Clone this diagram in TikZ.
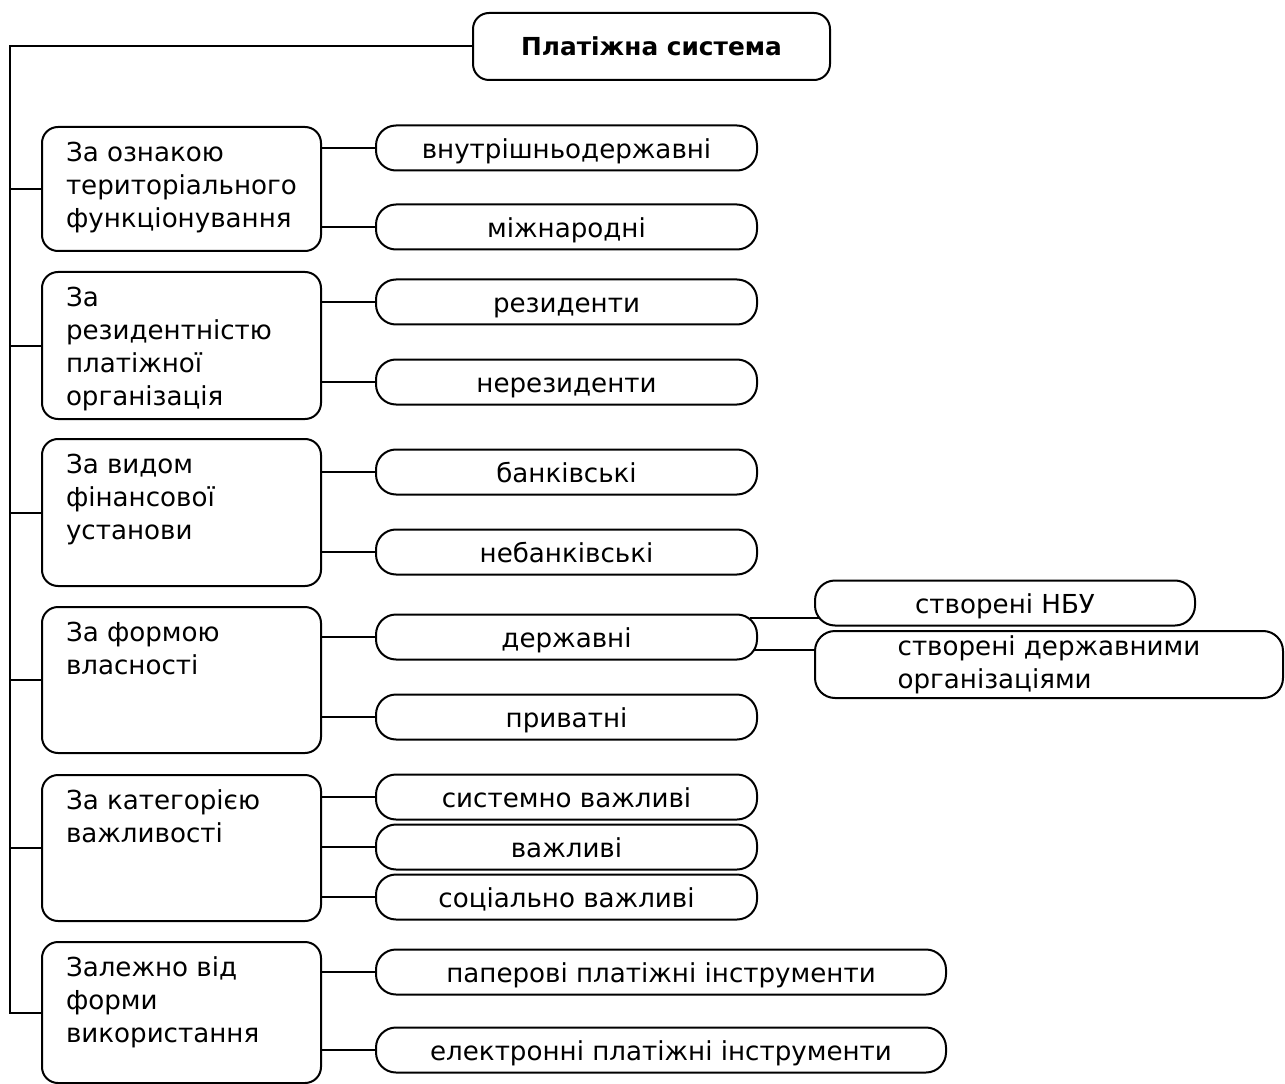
\documentclass[tikz,border=0pt]{standalone}
\usepackage{fontspec}
\setmainfont{DejaVu Sans}
\tikzset{
  cat/.style={draw, line width=1.5pt, rounded corners=12pt, anchor=north west,
    inner xsep=18pt, inner ysep=11pt, font=\fontsize{19.6}{24.75}\selectfont},
  kind/.style={draw, line width=1.5pt, rounded corners=15pt, minimum width=285.75pt,
    minimum height=33.75pt, inner sep=0pt, text height=19pt, text depth=3.7pt,
    font=\fontsize{19.6}{24.75}\selectfont},
  wide/.style={kind, minimum width=427.5pt},
  link/.style={line width=1.5pt}
}
\newcommand{\toptext}[2]{\parbox[t][#1][t]{173.25pt}{\raggedright #2}}

\begin{document}
\begin{tikzpicture}[x=0.75pt, y=-0.75pt]
  \useasboundingbox (0,0) rectangle (1285,1084);
  % head
  \node[draw, line width=1.5pt, rounded corners=12pt, minimum width=267.75pt, minimum height=50.25pt,
    font=\fontsize{18.6}{24.75}\selectfont\bfseries] (root) at (651.5,46.5) {Платіжна система};
  \coordinate (spine) at (10,0);

  % groups
  \node[cat] (g1) at (41,126) {\toptext{71pt}{За ознакою\\територіального\\функціонування}};
  \node[cat] (g2) at (41,271) {\toptext{88.25pt}{За\\резидентністю\\платіжної\\організація}};
  \node[cat] (g3) at (41,438) {\toptext{88.25pt}{За видом\\фінансової\\установи}};
  \node[cat] (g4) at (41,606) {\toptext{87.5pt}{За формою\\власності}};
  \node[cat] (g5) at (41,774) {\toptext{87.5pt}{За категорією\\важливості}};
  \node[cat] (g6) at (41,941) {\toptext{83.75pt}{Залежно від\\форми\\використання}};

  % kinds
  \node[kind] (k1) at (566.5,148) {внутрішньодержавні};
  \node[kind] (k2) at (566.5,227) {міжнародні};
  \node[kind] (k3) at (566.5,302) {резиденти};
  \node[kind] (k4) at (566.5,382) {нерезиденти};
  \node[kind] (k5) at (566.5,472) {банківські};
  \node[kind] (k6) at (566.5,552) {небанківські};
  \node[kind] (k7) at (566.5,637) {державні};
  \node[kind] (k8) at (566.5,717) {приватні};
  \node[kind] (k9) at (566.5,797) {системно важливі};
  \node[kind] (k10) at (566.5,847) {важливі};
  \node[kind] (k11) at (566.5,897) {соціально важливі};
  \node[wide] (k12) at (661,972) {паперові платіжні інструменти};
  \node[wide] (k13) at (661,1050) {електронні платіжні інструменти};

  % state subkinds
  \node[kind, minimum width=285pt] (s1) at (1005,603) {створені НБУ};
  \node[kind, minimum width=351pt, minimum height=50.25pt, text height=, text depth=, align=left] (s2) at (1049,664.5)
    {створені державними\\організаціями};

  % spine
  \draw[link] (root.west) -- (root.west -| spine) |- (g6.west);
  \foreach \g in {g1,g2,g3,g4,g5}
    \draw[link] (\g.west) -- (\g.west -| spine);

  % branches
  \foreach \g/\k in {g1/k1,g1/k2,g2/k3,g2/k4,g3/k5,g3/k6,g4/k7,g4/k8,g5/k9,g5/k10,g5/k11,g6/k12,g6/k13}
    \draw[link] (\k.west) -- (\k.west -| \g.east);
  \draw[link] ([xshift=-6pt,yshift=14.25pt]k7.east) -- ([xshift=3.5pt,yshift=14.25pt]k7.east -| s1.west);
  \draw[link] ([xshift=-3pt,yshift=-9.75pt]k7.east) -- ([xshift=1pt,yshift=-9.75pt]k7.east -| s2.west);
\end{tikzpicture}
\end{document}
